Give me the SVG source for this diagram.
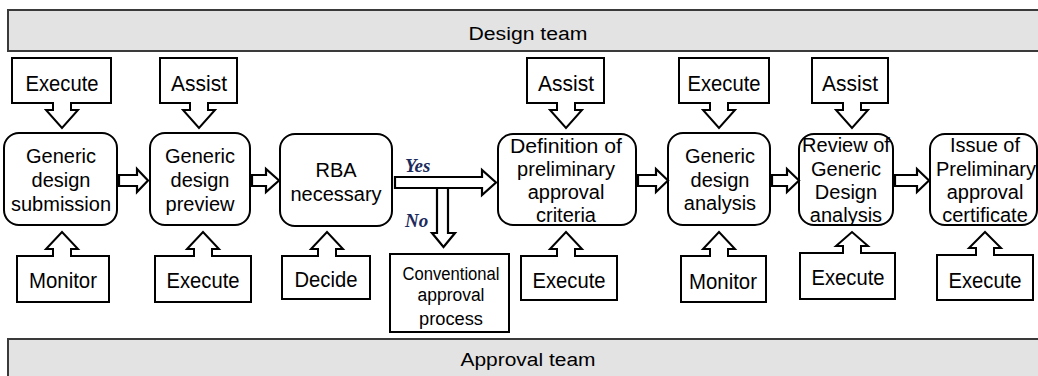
<svg xmlns="http://www.w3.org/2000/svg" width="1038" height="376" viewBox="0 0 1038 376">
  <style>
    .band { fill: #e3e3e3; stroke: #3a3a3a; stroke-width: 2; }
    .band-text { font-family: "Liberation Sans", Arial, sans-serif; font-size: 18px; fill: #000; text-anchor: middle; }
    .proc { fill: #fff; stroke: #000; stroke-width: 2; }
    .proc-text { font-family: "Liberation Sans", Arial, sans-serif; font-size: 20px; fill: #000; text-anchor: middle; }
    .callout { fill: #fff; stroke: #000; stroke-width: 2; stroke-linejoin: miter; }
    .role { font-family: "Liberation Sans", Arial, sans-serif; font-size: 22px; fill: #000; text-anchor: middle; }
    .box { fill: #fff; stroke: #000; stroke-width: 2; }
    .box-text { font-family: "Liberation Sans", Arial, sans-serif; font-size: 18px; fill: #000; text-anchor: middle; }
    .flow { fill: #fff; stroke: #000; stroke-width: 2.2; stroke-linejoin: miter; }
    .branch { font-family: "Liberation Serif", "Times New Roman", serif; font-size: 19px; font-weight: bold; font-style: italic; fill: #1c2b5c; }
  </style>

  <!-- Swimlane bands -->
  <g id="design-team">
    <rect class="band" x="8" y="10" width="1040" height="41"/>
    <text class="band-text" x="528" y="40" textLength="119" lengthAdjust="spacingAndGlyphs">Design team</text>
  </g>
  <g id="approval-team">
    <rect class="band" x="8" y="339" width="1040" height="50"/>
    <text class="band-text" x="528" y="366" textLength="135" lengthAdjust="spacingAndGlyphs">Approval team</text>
  </g>

  <!-- Process steps -->
  <g id="step-submission">
    <rect class="proc" x="4" y="133" width="113" height="92" rx="15"/>
    <text class="proc-text" x="61" y="163">Generic</text>
    <text class="proc-text" x="61" y="187">design</text>
    <text class="proc-text" x="61" y="211">submission</text>
  </g>
  <g id="step-preview">
    <rect class="proc" x="150" y="133" width="100" height="92" rx="15"/>
    <text class="proc-text" x="200" y="163">Generic</text>
    <text class="proc-text" x="200" y="187">design</text>
    <text class="proc-text" x="200" y="211">preview</text>
  </g>
  <g id="step-rba">
    <rect class="proc" x="280" y="134" width="112" height="92" rx="15"/>
    <text class="proc-text" x="336" y="177">RBA</text>
    <text class="proc-text" x="336" y="201">necessary</text>
  </g>
  <g id="step-conventional">
    <rect class="box" x="390" y="254" width="119" height="78"/>
    <text class="box-text" x="451" y="280" textLength="97" lengthAdjust="spacingAndGlyphs">Conventional</text>
    <text class="box-text" x="451" y="301" textLength="67" lengthAdjust="spacingAndGlyphs">approval</text>
    <text class="box-text" x="451" y="325" textLength="64" lengthAdjust="spacingAndGlyphs">process</text>
  </g>
  <g id="step-definition">
    <rect class="proc" x="498" y="134" width="138" height="91" rx="15"/>
    <text class="proc-text" x="566" y="153" textLength="112" lengthAdjust="spacingAndGlyphs">Definition of</text>
    <text class="proc-text" x="566" y="176">preliminary</text>
    <text class="proc-text" x="566" y="199">approval</text>
    <text class="proc-text" x="566" y="222">criteria</text>
  </g>
  <g id="step-analysis">
    <rect class="proc" x="668" y="133" width="102" height="92" rx="15"/>
    <text class="proc-text" x="720" y="163">Generic</text>
    <text class="proc-text" x="720" y="187">design</text>
    <text class="proc-text" x="720" y="210">analysis</text>
  </g>
  <g id="step-review">
    <rect class="proc" x="799" y="134" width="94" height="91" rx="15"/>
    <text class="proc-text" x="846" y="152">Review of</text>
    <text class="proc-text" x="846" y="176">Generic</text>
    <text class="proc-text" x="846" y="199">Design</text>
    <text class="proc-text" x="846" y="222">analysis</text>
  </g>
  <g id="step-issue">
    <rect class="proc" x="930" y="134" width="107" height="91" rx="15"/>
    <text class="proc-text" x="985" y="152">Issue of</text>
    <text class="proc-text" x="986" y="176">Preliminary</text>
    <text class="proc-text" x="985" y="199">approval</text>
    <text class="proc-text" x="985" y="222">certificate</text>
  </g>

  <!-- Design-team role callouts (pointing down) -->
  <g id="role-top-1">
    <path class="callout" d="M12,58 H111 V103 H71 V110 H78 L62,128 L46,110 H53 V103 H12 Z"/>
    <text class="role" x="62" y="91" textLength="73" lengthAdjust="spacingAndGlyphs">Execute</text>
  </g>
  <g id="role-top-2">
    <path class="callout" d="M160,58 H237 V103 H208 V110 H215 L199,128 L183,110 H190 V103 H160 Z"/>
    <text class="role" x="199" y="91" textLength="56" lengthAdjust="spacingAndGlyphs">Assist</text>
  </g>
  <g id="role-top-3">
    <path class="callout" d="M527,58 H604 V103 H575 V110 H582 L566,128 L550,110 H557 V103 H527 Z"/>
    <text class="role" x="566" y="91" textLength="56" lengthAdjust="spacingAndGlyphs">Assist</text>
  </g>
  <g id="role-top-4">
    <path class="callout" d="M679,58 H769 V103 H728 V110 H735 L719,128 L703,110 H710 V103 H679 Z"/>
    <text class="role" x="724" y="91" textLength="73" lengthAdjust="spacingAndGlyphs">Execute</text>
  </g>
  <g id="role-top-5">
    <path class="callout" d="M812,58 H888 V103 H861 V110 H868 L852,128 L836,110 H843 V103 H812 Z"/>
    <text class="role" x="850" y="91" textLength="56" lengthAdjust="spacingAndGlyphs">Assist</text>
  </g>

  <!-- Approval-team role callouts (pointing up) -->
  <g id="role-bottom-1">
    <path class="callout" d="M17,256 H53 V249 H46 L62,232 L78,249 H71 V256 H109 V302 H17 Z"/>
    <text class="role" x="63" y="288" textLength="68" lengthAdjust="spacingAndGlyphs">Monitor</text>
  </g>
  <g id="role-bottom-2">
    <path class="callout" d="M155,256 H194 V249 H187 L203,232 L219,249 H212 V256 H251 V302 H155 Z"/>
    <text class="role" x="203" y="288" textLength="73" lengthAdjust="spacingAndGlyphs">Execute</text>
  </g>
  <g id="role-bottom-3">
    <path class="callout" d="M282,256 H318 V249 H311 L327,232 L343,249 H336 V256 H370 V299 H282 Z"/>
    <text class="role" x="326" y="287" textLength="63" lengthAdjust="spacingAndGlyphs">Decide</text>
  </g>
  <g id="role-bottom-4">
    <path class="callout" d="M521,256 H557 V249 H550 L566,232 L582,249 H575 V256 H617 V300 H521 Z"/>
    <text class="role" x="569" y="288" textLength="73" lengthAdjust="spacingAndGlyphs">Execute</text>
  </g>
  <g id="role-bottom-5">
    <path class="callout" d="M681,256 H710 V249 H703 L719,232 L735,249 H728 V256 H766 V302 H681 Z"/>
    <text class="role" x="723" y="289" textLength="68" lengthAdjust="spacingAndGlyphs">Monitor</text>
  </g>
  <g id="role-bottom-6">
    <path class="callout" d="M800,253 H843 V246 H836 L852,232 L868,246 H861 V253 H895 V299 H800 Z"/>
    <text class="role" x="848" y="285" textLength="73" lengthAdjust="spacingAndGlyphs">Execute</text>
  </g>
  <g id="role-bottom-7">
    <path class="callout" d="M937,255 H976 V248 H969 L985,232 L1001,248 H994 V255 H1033 V300 H937 Z"/>
    <text class="role" x="985" y="288" textLength="73" lengthAdjust="spacingAndGlyphs">Execute</text>
  </g>

  <!-- Flow connectors (hollow block arrows) -->
  <g id="connectors">
    <path class="flow" d="M119,175 H137 V169 L148,180.5 L137,192 V186 H119 Z"/>
    <path class="flow" d="M252,175 H266 V169 L279,180.5 L266,192 V186 H252 Z"/>
    <path class="flow" d="M395,177 H482 V170 L496,182.5 L482,195 V188 H395 Z"/>
    <path class="flow" d="M437,188 H448 V233 H455 L443.5,247 L432,233 H437 Z"/>
    <path class="flow" d="M638,175 H656 V169 L668,180.5 L656,192 V186 H638 Z"/>
    <path class="flow" d="M772,175 H787 V169 L799,180.5 L787,192 V186 H772 Z"/>
    <path class="flow" d="M895,175 H917 V169 L929,180.5 L917,192 V186 H895 Z"/>
    <text class="branch" x="405" y="172">Yes</text>
    <text class="branch" x="405" y="227">No</text>
  </g>
</svg>
